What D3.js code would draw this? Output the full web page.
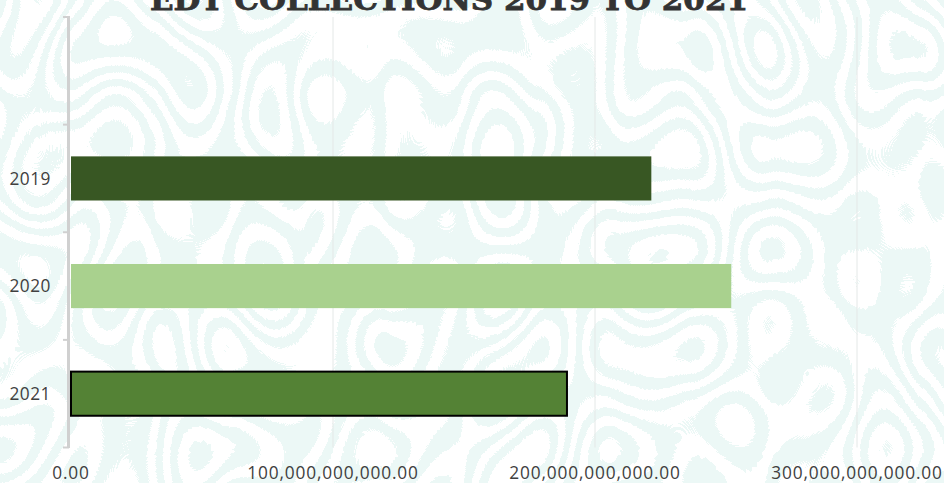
<!DOCTYPE html>
<html>
<head>
<meta charset="utf-8">
<script src="https://cdn.jsdelivr.net/npm/d3@7"></script>
<style>
  html, body { margin: 0; padding: 0; background: #ffffff; }
  svg { display: block; }
</style>
</head>
<body>
<div id="chart"></div>
<script>
const title = "EDT COLLECTIONS 2019 TO 2021";
const categories = ["2019", "2020", "2021"];
const values = [221.5e9, 252.0e9, 189.3e9];
const barColors = ["#385723", "#a9d18e", "#548235"];
const barStrokes = ["none", "none", "#000000"];
const xTicks = [0, 100e9, 200e9, 300e9];

const W = 944, H = 483;
const svg = d3.select("#chart").append("svg").attr("width", W).attr("height", H);

// background pattern
const defs = svg.append("defs");
const f = defs.append("filter").attr("id", "maze")
  .attr("filterUnits", "userSpaceOnUse")
  .attr("x", 0).attr("y", 0).attr("width", W).attr("height", H)
  .attr("color-interpolation-filters", "sRGB");
f.append("feTurbulence").attr("type", "fractalNoise").attr("baseFrequency", "0.013 0.010")
  .attr("numOctaves", 1).attr("seed", 11).attr("result", "n");
f.append("feColorMatrix").attr("type", "matrix")
  .attr("values", "0 0 0 0 0.925  0 0 0 0 0.973  0 0 0 0 0.965  1 0 0 0 0");
const ct = f.append("feComponentTransfer");
ct.append("feFuncA").attr("type", "discrete")
  .attr("tableValues", "0 1 0 1 0 1 0 1 0 1 0 1 0 1 0 1 0 1");

svg.append("rect").attr("width", W).attr("height", H).attr("fill", "#ffffff");
svg.append("rect").attr("width", W).attr("height", H).attr("fill", "#000").attr("filter", "url(#maze)");

const x = d3.scaleLinear().domain([0, 300e9]).range([71, 857]);
const yDomain = [""].concat(categories);
const y = d3.scaleBand().domain(yDomain).range([17, 447.5]).paddingInner(0.59).paddingOuter(0.295);

// gridlines
svg.append("g").selectAll("line").data(xTicks.slice(1)).join("line")
  .attr("x1", d => x(d)).attr("x2", d => x(d))
  .attr("y1", 17).attr("y2", 447.5)
  .attr("stroke", "#e4e8e7").attr("stroke-width", 1);

// bars
svg.append("g").selectAll("rect").data(categories).join("rect")
  .attr("x", x(0))
  .attr("y", d => y(d))
  .attr("width", (d, i) => x(values[i]) - x(0))
  .attr("height", y.bandwidth())
  .attr("fill", (d, i) => barColors[i])
  .attr("stroke", (d, i) => barStrokes[i])
  .attr("stroke-width", 2);

// y axis
const step = y.step();
const bounds = d3.range(yDomain.length + 1).map(i => 17 + i * step);
const ya = svg.append("g");
ya.append("line").attr("x1", 68.5).attr("x2", 68.5).attr("y1", 16).attr("y2", 448)
  .attr("stroke", "#d0d0d0").attr("stroke-width", 3);
ya.selectAll("line.t").data(bounds).join("line").attr("class", "t")
  .attr("x1", 63).attr("x2", 69).attr("y1", d => d).attr("y2", d => d)
  .attr("stroke", "#d0d0d0").attr("stroke-width", 2);
ya.selectAll("text").data(categories).join("text")
  .attr("x", 51).attr("y", d => y(d) + y.bandwidth() / 2)
  .attr("dy", "0.36em").attr("text-anchor", "end")
  .attr("font-family", "'Open Sans', sans-serif").attr("font-size", 17.3)
  .attr("letter-spacing", 0.5)
  .attr("fill", "#404040").text(d => d);

// x tick labels
const fmt = d3.format(",.2f");
svg.append("g").selectAll("text").data(xTicks).join("text")
  .attr("x", d => x(d)).attr("y", 479)
  .attr("text-anchor", "middle")
  .attr("font-family", "'Open Sans', sans-serif").attr("font-size", 17.3)
  .attr("letter-spacing", 0.85)
  .attr("fill", "#404040").text(d => fmt(d));

// title (clipped at top, as in the reference)
svg.append("text").attr("x", 449).attr("y", 10)
  .attr("text-anchor", "middle")
  .attr("font-family", "'DejaVu Serif', serif").attr("font-weight", "bold")
  .attr("font-size", 30).attr("fill", "#333333")
  .attr("textLength", 598).attr("lengthAdjust", "spacingAndGlyphs")
  .attr("stroke", "#333333").attr("stroke-width", 0.8)
  .text(title);
</script>
</body>
</html>
